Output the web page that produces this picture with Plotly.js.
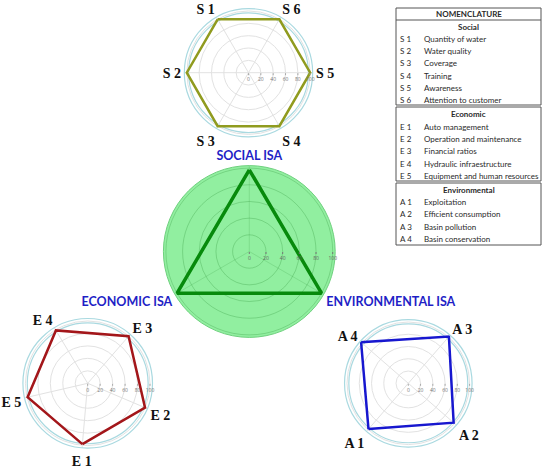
<!DOCTYPE html>
<html>
<head>
<meta charset="utf-8">
<script src="https://cdn.plot.ly/plotly-3.0.1.min.js"></script>
<style>body{margin:0;background:#fff}#chart{width:550px;height:468px}</style>
</head>
<body>
<div id="chart"></div>
<script>
var W = 550, H = 468;

// scores (0-100)
var socialCodes = ["S 1", "S 2", "S 3", "S 4", "S 5", "S 6"];
var socialValues = [100, 100, 100, 100, 100, 100];
var economicCodes = ["E 1", "E 2", "E 3", "E 4", "E 5"];
var economicValues = [98, 100, 100, 99, 99];
var envCodes = ["A 1", "A 2", "A 3", "A 4"];
var envValues = [99, 98, 101, 102];
var isaNames = ["SOCIAL ISA", "ECONOMIC ISA", "ENVIRONMENTAL ISA"];
var isaValues = [98, 100, 100];
var radialTicks = [0, 20, 40, 60, 80, 100];

// nomenclature table
var socialNames = ["Quantity of water", "Water quality", "Coverage", "Training", "Awareness", "Attention to customer"];
var economicNames = ["Auto management", "Operation and maintenance", "Financial ratios", "Hydraulic infraestructure", "Equipment and human resources"];
var envNames = ["Exploitation", "Efficient consumption", "Basin pollution", "Basin conservation"];
var sectionTitles = ["Social", "Economic", "Environmental"];

function closed(a){ return a.concat([a[0]]); }

// pixel centre + radius of the outer ring -> paper domain
function dom(cx, cy, R){
	return {x: [(cx - R) / W, (cx + R) / W], y: [1 - (cy + R) / H, 1 - (cy - R) / H]};
}

function smallPolar(cx, cy, R, rot){
	return {
		domain: dom(cx, cy, R),
		bgcolor: 'rgba(0,0,0,0)',
		radialaxis: {
			range: [0, 104], tickvals: radialTicks, angle: 0, side: 'clockwise',
			tickfont: {size: 5, color: '#777'}, ticks: 'outside', ticklen: 2, tickcolor: '#aaa',
			showline: false, gridcolor: '#e2e2e2', gridwidth: 1
		},
		angularaxis: {
			rotation: rot, direction: 'counterclockwise',
			linecolor: '#a9d9e0', linewidth: 1.2, gridcolor: '#e2e2e2', ticks: '',
			tickfont: {family: 'Liberation Serif', size: 14, weight: 'bold', color: '#111'}
		}
	};
}

var traces = [
	{type: 'scatterpolar', subplot: 'polar', r: closed(isaValues), theta: closed(isaNames),
		mode: 'lines', line: {color: '#078a0c', width: 3.5}, hoverinfo: 'none'},
	{type: 'scatterpolar', subplot: 'polar2', r: closed(socialValues), theta: closed(socialCodes),
		mode: 'lines', line: {color: '#909b1f', width: 2.5}, hoverinfo: 'none'},
	{type: 'scatterpolar', subplot: 'polar3', r: closed(economicValues), theta: closed(economicCodes),
		mode: 'lines', line: {color: '#a3161a', width: 2.5}, hoverinfo: 'none'},
	{type: 'scatterpolar', subplot: 'polar4', r: closed(envValues), theta: closed(envCodes),
		mode: 'lines', line: {color: '#1717cf', width: 2.5}, hoverinfo: 'none'}
];

// radar centres in px and pixel length of r=100
var small = [
	{cx: 248.5, cy: 72.7, r100: 61.7},
	{cx: 87.7, cy: 383.3, r100: 62.3},
	{cx: 408.3, cy: 383.3, r100: 61.3}
];

var shapes = [];
small.forEach(function(s){
	var r = s.r100 * 0.97;
	shapes.push({type: 'circle', xref: 'paper', yref: 'paper', layer: 'below',
		x0: (s.cx - r) / W, x1: (s.cx + r) / W, y0: 1 - (s.cy + r) / H, y1: 1 - (s.cy - r) / H,
		line: {color: '#a9d9e0', width: 1.2}});
});

// nomenclature boxes
var tx0 = 396, tx1 = 541;
var boxes = [[8, 105], [107, 181], [183, 245]];
boxes.forEach(function(b){
	shapes.push({type: 'rect', xref: 'paper', yref: 'paper',
		x0: tx0 / W, x1: tx1 / W, y0: 1 - b[1] / H, y1: 1 - b[0] / H,
		line: {color: '#555', width: 1}});
});
shapes.push({type: 'line', xref: 'paper', yref: 'paper', x0: tx0 / W, x1: tx1 / W,
	y0: 1 - 20 / H, y1: 1 - 20 / H, line: {color: '#555', width: 1}});

var annotations = [];
function txt(x, y, t, anchor, bold){
	annotations.push({xref: 'paper', yref: 'paper', x: x / W, y: 1 - y / H, text: t,
		showarrow: false, xanchor: anchor, yanchor: 'middle',
		font: {family: 'Lato', size: 8, color: '#2a2a2a', weight: bold ? 'bold' : 'normal'}});
}
txt((tx0 + tx1) / 2, 14, 'NOMENCLATURE', 'center', true);
var groups = [[socialCodes, socialNames, 26.5], [economicCodes, economicNames, 114.3], [envCodes, envNames, 189.5]];
groups.forEach(function(g, gi){
	txt((tx0 + tx1) / 2, g[2], sectionTitles[gi], 'center', true);
	g[0].forEach(function(c, i){
		var y = g[2] + 12.6 + i * 12.2;
		txt(398, y, c, 'left', false);
		txt(421.5, y, g[1][i], 'left', false);
	});
});

var layout = {
	width: W, height: H,
	margin: {l: 0, r: 0, t: 0, b: 0},
	paper_bgcolor: '#fff',
	showlegend: false,
	polar: {
		domain: dom(249.3, 251.5, 85.9),
		bgcolor: '#91efa0',
		radialaxis: {
			range: [0, 103], tickvals: radialTicks, angle: 0, side: 'clockwise',
			tickfont: {size: 5, color: '#666'}, ticks: 'outside', ticklen: 2, tickcolor: '#777',
			showline: false, gridcolor: 'rgba(50,150,60,0.3)'
		},
		angularaxis: {
			rotation: 90, direction: 'counterclockwise',
			linecolor: '#6fd07e', linewidth: 1, gridcolor: 'rgba(50,150,60,0.2)', ticks: '',
			tickfont: {family: 'Lato', size: 12.5, weight: 'bold', color: '#1f1fc6'}
		}
	},
	polar2: smallPolar(small[0].cx, small[0].cy, small[0].r100 * 1.04, 120),
	polar3: smallPolar(small[1].cx, small[1].cy, small[1].r100 * 1.04, 265),
	polar4: smallPolar(small[2].cx, small[2].cy, small[2].r100 * 1.04, 229),
	shapes: shapes,
	annotations: annotations
};

Plotly.newPlot('chart', traces, layout, {staticPlot: true});
</script>
</body>
</html>
